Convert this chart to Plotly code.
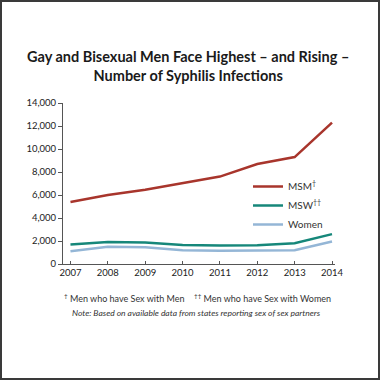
import plotly.graph_objects as go

years = [2007, 2008, 2009, 2010, 2011, 2012, 2013, 2014]
msm = [5400, 6000, 6450, 7000, 7600, 8700, 9300, 12300]
msw = [1700, 1920, 1880, 1650, 1600, 1620, 1800, 2600]
women = [1100, 1500, 1450, 1200, 1150, 1150, 1200, 1950]
y_ticks = [0, 2000, 4000, 6000, 8000, 10000, 12000, 14000]

FONT = "Lato"
W, H = 380, 380
L, R, T, B = 63, 45, 103, 116
pw, ph = W - L - R, H - T - B

def px(x):
    return (x - L) / pw

def py(y):
    return (H - B - y) / ph

fig = go.Figure()
fig.add_trace(go.Scatter(x=years, y=msm, mode="lines", name="MSM<sup>†</sup>",
                         line=dict(color="#a8352c", width=2.5)))
fig.add_trace(go.Scatter(x=years, y=msw, mode="lines", name="MSW<sup>††</sup>",
                         line=dict(color="#16877a", width=2.5)))
fig.add_trace(go.Scatter(x=years, y=women, mode="lines", name="Women",
                         line=dict(color="#94b6d6", width=2.5)))

fig.update_layout(
    width=W, height=H,
    margin=dict(l=L, r=R, t=T, b=B),
    paper_bgcolor="white", plot_bgcolor="white",
    font=dict(family=FONT, color="#222222", size=9),
    showlegend=True,
    legend=dict(x=px(248), y=py(172), xanchor="left", yanchor="top",
                font=dict(size=10, color="#333333"), bgcolor="rgba(0,0,0,0)",
                tracegroupgap=0, itemwidth=30),
    xaxis=dict(range=[2006.8, 2014.08], tickvals=years, ticks="inside", ticklen=3,
               tickcolor="#555555", showline=True, linecolor="#555555", linewidth=1,
               showgrid=False, zeroline=False, tickfont=dict(size=9.5)),
    yaxis=dict(range=[0, 14000], tickvals=y_ticks, tickformat=",", ticks="outside",
               ticklen=4, tickcolor="#555555", showline=True, linecolor="#555555",
               linewidth=1, showgrid=False, zeroline=False, tickfont=dict(size=9.5)),
)

fig.add_annotation(text="<b>Gay and Bisexual Men Face Highest – and Rising –<br>Number of Syphilis Infections</b>",
                   xref="paper", yref="paper", x=px(188), y=py(66), xanchor="center", yanchor="middle",
                   showarrow=False, font=dict(size=14.5, color="#1a1a1a", family=FONT), align="center")
fig.add_annotation(text="<sup>†</sup> Men who have Sex with Men",
                   xref="paper", yref="paper", x=px(124), y=py(298), xanchor="center", yanchor="middle",
                   showarrow=False, font=dict(size=9, color="#333333"))
fig.add_annotation(text="<sup>††</sup> Men who have Sex with Women",
                   xref="paper", yref="paper", x=px(262), y=py(298), xanchor="center", yanchor="middle",
                   showarrow=False, font=dict(size=9, color="#333333"))
fig.add_annotation(text="<i>Note: Based on available data from states reporting sex of sex partners</i>",
                   xref="paper", yref="paper", x=px(196), y=py(313), xanchor="center", yanchor="middle",
                   showarrow=False, font=dict(size=8.5, color="#333333"))
fig.add_shape(type="rect", xref="paper", yref="paper", x0=px(1), x1=px(379), y0=py(1), y1=py(379),
              line=dict(color="#3a3a3a", width=2), layer="above")

fig.write_html("out.html", config={"displayModeBar": False},
               post_script="document.body.style.margin='0';document.body.style.overflow='hidden';")
